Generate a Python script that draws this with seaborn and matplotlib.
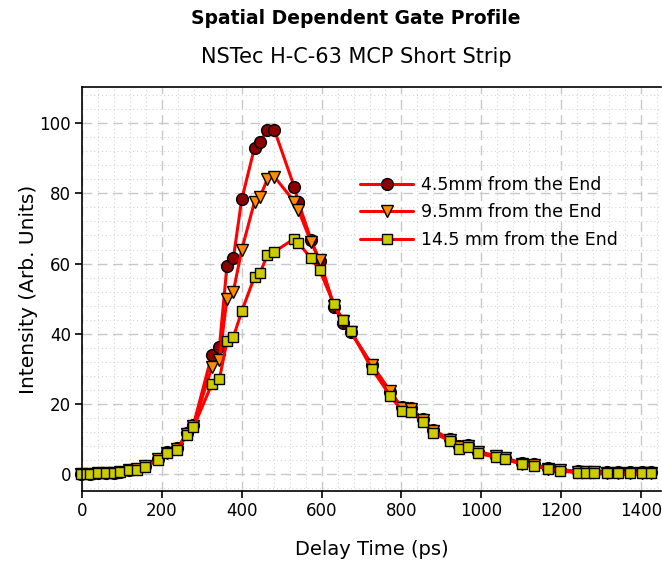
import matplotlib
matplotlib.use("Agg")
import matplotlib.pyplot as plt
from matplotlib.ticker import MultipleLocator
import seaborn as sns
import pandas as pd

delay_ps = [-3, 20, 41, 60, 79, 95, 118, 137, 158, 191, 212, 239, 262, 279,
            325, 344, 363, 379, 400, 432, 446, 464, 482, 532, 542, 574, 595,
            631, 654, 673,
            726, 772, 801, 824, 854, 879, 922, 943, 966, 992, 1037, 1060, 1102,
            1131, 1166, 1198, 1242, 1263, 1281, 1315, 1342, 1372, 1403, 1425]

int_4_5mm = [0.1, 0.1, 0.2, 0.3, 0.4, 0.7, 1.2, 1.5, 2.3, 4.3, 6.2, 7.4, 11.6, 14.0,
             33.9, 36.1, 59.3, 61.5, 78.3, 93.0, 94.7, 98.0, 98.0, 81.7, 77.4, 66.7, 60.8,
             47.7, 43.2, 40.4,
             31.0, 23.4, 19.0, 18.8, 15.6, 12.6, 10.0, 7.9, 8.3, 6.4, 5.3, 4.6, 3.2,
             2.8, 1.8, 1.3, 0.8, 0.7, 0.7, 0.5, 0.5, 0.5, 0.5, 0.5]

int_9_5mm = [0.1, 0.1, 0.2, 0.3, 0.4, 0.7, 1.2, 1.4, 2.2, 4.2, 6.1, 7.2, 11.4, 13.8,
             30.4, 32.5, 50.0, 52.0, 63.9, 77.6, 79.0, 84.0, 84.7, 77.6, 75.2, 66.0, 61.0,
             48.0, 43.5, 40.6,
             31.2, 23.6, 18.9, 18.6, 15.4, 12.4, 9.8, 7.7, 8.1, 6.2, 5.1, 4.5, 3.0,
             2.6, 1.6, 1.1, 0.6, 0.6, 0.6, 0.4, 0.4, 0.4, 0.4, 0.4]

int_14_5mm = [0.1, 0.1, 0.2, 0.3, 0.3, 0.6, 1.1, 1.3, 2.1, 4.0, 5.9, 7.0, 11.1, 13.3,
              25.6, 27.0, 37.9, 39.0, 46.4, 56.2, 57.4, 62.3, 63.4, 67.1, 65.8, 61.5, 58.1,
              48.4, 43.8, 40.9,
              30.0, 22.3, 18.1, 17.8, 14.8, 11.8, 9.4, 7.3, 7.7, 5.9, 4.8, 4.2, 2.8,
              2.4, 1.4, 0.9, 0.4, 0.4, 0.4, 0.2, 0.2, 0.2, 0.2, 0.2]

series_labels = ["4.5mm from the End", "9.5mm from the End", "14.5 mm from the End"]
x_ticks = [0, 200, 400, 600, 800, 1000, 1200, 1400]
y_ticks = [0, 20, 40, 60, 80, 100]

sns.set_style("white")
plt.rcParams['font.family'] = ['DejaVu Sans']
plt.rcParams['text.color'] = 'black'
plt.rcParams['axes.labelcolor'] = 'black'
plt.rcParams['xtick.color'] = 'black'
plt.rcParams['ytick.color'] = 'black'

fig = plt.figure(figsize=(6.62, 5.63), dpi=100)
ax = fig.add_axes([82/662, 1 - 491/563, (661-82)/662, (491-87)/563])

styles = [
    (int_4_5mm, "o", "#8B0000", 8.5),
    (int_9_5mm, "v", "#FF8C00", 9.0),
    (int_14_5mm, "s", "#CCCC00", 7.8),
]
for (vals, mk, fc, ms), lab in zip(styles, series_labels):
    df = pd.DataFrame({"Delay Time (ps)": delay_ps, "Intensity": vals})
    sns.lineplot(data=df, x="Delay Time (ps)", y="Intensity", ax=ax,
                 color="#FF0000", linewidth=2.2, marker=mk, markersize=ms,
                 markerfacecolor=fc, markeredgecolor="black", markeredgewidth=1.0,
                 label=lab, sort=False, estimator=None, clip_on=False)

ax.set_xlim(0, 1450)
ax.set_ylim(-4.8, 110.3)
ax.set_xticks(x_ticks)
ax.set_yticks(y_ticks)
ax.xaxis.set_minor_locator(MultipleLocator(40))
ax.yaxis.set_minor_locator(MultipleLocator(4))
ax.grid(which="major", color="#c8c8c8", linestyle=(0, (7, 4)), linewidth=1.0)
ax.grid(which="minor", color="#d6d6d6", linestyle=(0, (1, 2.5)), linewidth=0.8)
ax.set_axisbelow(True)

ax.tick_params(axis="both", which="major", direction="out", length=5, width=1.2,
               color="black", labelsize=12, pad=3, bottom=True, left=True)
ax.tick_params(axis="both", which="minor", length=0)

for side in ["left", "bottom", "top"]:
    ax.spines[side].set_color("black")
    ax.spines[side].set_linewidth(1.2)
ax.spines["right"].set_visible(False)

ax.set_xlabel("Delay Time (ps)", fontsize=14, labelpad=14)
ax.set_ylabel("Intensity (Arb. Units)", fontsize=14.5, labelpad=1)

leg = ax.legend(loc="upper left", bbox_to_anchor=(0.481, 0.78), frameon=False,
                fontsize=12.5, handlelength=3.0, handletextpad=0.5,
                labelspacing=0.55, borderpad=0, borderaxespad=0)

fig.text(0.538, 1 - 19/563, "Spatial Dependent Gate Profile", ha="center",
         va="center", fontsize=13.5, fontweight="bold")
fig.text(0.538, 1 - 57/563, "NSTec H-C-63 MCP Short Strip", ha="center",
         va="center", fontsize=15)

fig.savefig("out.png", dpi=100)
